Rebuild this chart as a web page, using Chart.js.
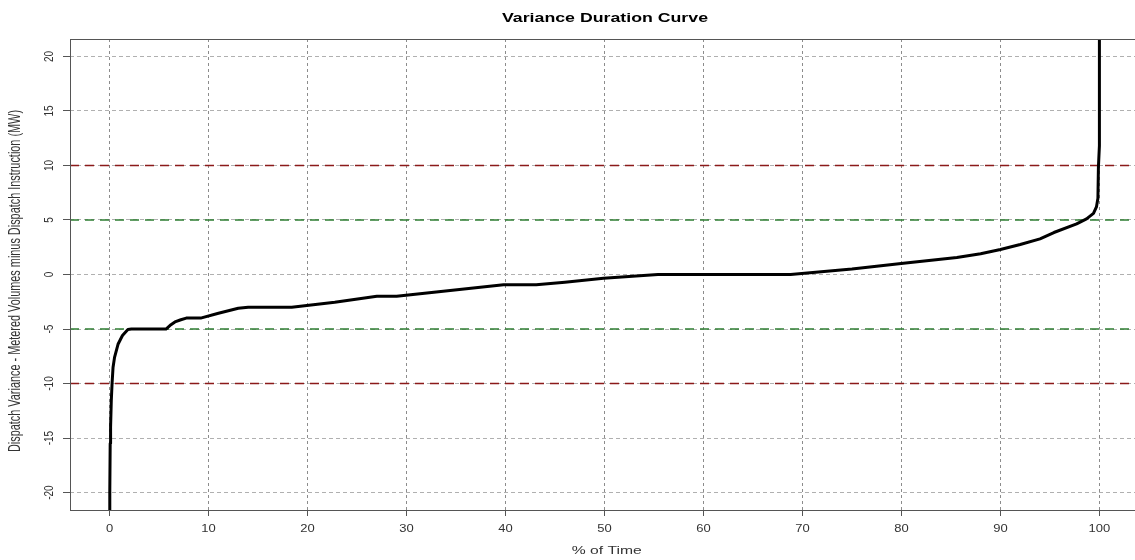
<!DOCTYPE html>
<html><head><meta charset="utf-8">
<script src="https://cdn.jsdelivr.net/npm/chart.js@4.4.0/dist/chart.umd.min.js"></script>
<style>html,body{margin:0;padding:0;overflow:hidden;background:#fff;width:1135px;height:560px}canvas{display:block}</style>
</head><body>
<canvas id="c" width="1140" height="560"></canvas>
<script>
// ---- data ----
const pctTime  = [0, 0.02, 0.06, 0.1, 0.17, 0.25, 0.35, 0.5, 0.85, 1.3, 1.85, 2.2, 5.7, 6.2, 6.6, 7.2, 7.75, 9.2, 11, 13, 14, 18.4, 22.75, 27, 29, 33, 39.8, 43.1, 46, 49.9, 55.4, 68.8, 75, 80.2, 85.6, 88, 90, 92, 94, 95.4, 97.7, 98.7, 99.4, 99.7, 99.85, 99.9, 100, 100];
const variance = [-25, -20, -15.5, -14, -11.6, -10, -8.5, -7.6, -6.4, -5.6, -5.05, -5, -5, -4.6, -4.35, -4.15, -4.0, -4.0, -3.55, -3.1, -3.0, -3.0, -2.55, -2.0, -2.0, -1.6, -0.95, -0.95, -0.7, -0.34, 0, 0, 0.5, 1.04, 1.55, 1.9, 2.3, 2.75, 3.27, 3.85, 4.65, 5.1, 5.6, 6.2, 7.0, 9.85, 11.8, 25];
const xTicks = [0, 10, 20, 30, 40, 50, 60, 70, 80, 90, 100];
const yTicks = [-20, -15, -10, -5, 0, 5, 10, 15, 20];
const redLevels = [-10, 10];
const greenLevels = [-5, 5];
const xRange = [-4, 104];
const yRange = [-21.6, 21.6];
const titleText = 'Variance Duration Curve';
const xTitle = '% of Time';
const yTitle = 'Dispatch Variance - Metered Volumes minus Dispatch Instruction (MW)';

const curve = pctTime.map((x, i) => ({x: x, y: variance[i]}));
const refLine = (v, color) => ({
  data: [{x: xRange[0], y: v}, {x: xRange[1], y: v}],
  borderColor: color, borderWidth: 1.6, borderDash: [9, 6],
  pointRadius: 0, tension: 0, clip: 0
});

const FONT = '"Liberation Sans", Arial, sans-serif';
const STRETCH = 1.3;

const textPlugin = {
  id: 'textPlugin',
  afterDraw(chart) {
    const ctx = chart.ctx, a = chart.chartArea;
    const xs = chart.scales.x, ys = chart.scales.y;
    ctx.save();
    // box
    ctx.strokeStyle = '#555'; ctx.lineWidth = 1; ctx.setLineDash([]);
    ctx.strokeRect(Math.round(a.left) + 0.5, Math.round(a.top) + 0.5, Math.round(a.right - a.left), Math.round(a.bottom - a.top));
    // title
    ctx.fillStyle = '#000';
    ctx.font = 'bold 12px ' + FONT;
    ctx.textAlign = 'center'; ctx.textBaseline = 'alphabetic';
    let w = ctx.measureText(titleText).width;
    ctx.save(); ctx.translate(605, 21.7); ctx.scale(206 / w, 1); ctx.fillText(titleText, 0, 0); ctx.restore();
    // x tick labels
    ctx.fillStyle = '#333';
    ctx.font = '10px ' + FONT;
    xTicks.forEach(v => {
      ctx.save(); ctx.translate(xs.getPixelForValue(v), 532.3); ctx.scale(STRETCH, 1);
      ctx.fillText(String(v), 0, 0); ctx.restore();
    });
    // x title
    w = ctx.measureText(xTitle).width;
    ctx.save(); ctx.translate(606.7, 554.3); ctx.scale(70 / w, 1); ctx.fillText(xTitle, 0, 0); ctx.restore();
    // y tick labels (rotated)
    yTicks.forEach(v => {
      ctx.save(); ctx.translate(53.3, ys.getPixelForValue(v)); ctx.rotate(-Math.PI / 2); ctx.scale(1, STRETCH);
      ctx.fillText(String(v), 0, 0); ctx.restore();
    });
    // y title
    ctx.font = '12px ' + FONT;
    w = ctx.measureText(yTitle).width;
    ctx.save(); ctx.translate(20, 281); ctx.rotate(-Math.PI / 2); ctx.scale(342 / w, 1.35);
    ctx.fillText(yTitle, 0, 0); ctx.restore();
    ctx.restore();
  }
};

new Chart(document.getElementById('c'), {
  type: 'line',
  data: {
    datasets: [
      {data: curve, borderColor: '#000', borderWidth: 3, pointRadius: 0, tension: 0, clip: 0, borderJoinStyle: 'round'},
      refLine(redLevels[0], '#8b1a1a'), refLine(redLevels[1], '#8b1a1a'),
      refLine(greenLevels[0], '#2e7d32'), refLine(greenLevels[1], '#2e7d32')
    ]
  },
  options: {
    responsive: false, animation: false, devicePixelRatio: 1,
    layout: {padding: {top: 39, left: 0, right: 1, bottom: 0}},
    plugins: {legend: {display: false}, tooltip: {enabled: false}, title: {display: false}},
    scales: {
      x: {
        type: 'linear', min: xRange[0], max: xRange[1],
        afterBuildTicks: s => { s.ticks = xTicks.map(v => ({value: v})); },
        afterFit: s => { s.height = 50; },
        ticks: {display: false},
        grid: {color: '#8c8c8c', lineWidth: 1, drawTicks: true, tickLength: 6, tickColor: '#555', tickWidth: 1, tickBorderDash: []},
        border: {display: false, dash: [3, 3]}
      },
      y: {
        type: 'linear', min: yRange[0], max: yRange[1],
        afterBuildTicks: s => { s.ticks = yTicks.map(v => ({value: v})); },
        afterFit: s => { s.width = 70; },
        ticks: {display: false},
        grid: {color: '#b0b0b0', lineWidth: 1, drawTicks: true, tickLength: 7, tickColor: '#555', tickWidth: 1, tickBorderDash: []},
        border: {display: false, dash: [4, 3]}
      }
    }
  },
  plugins: [textPlugin]
});
</script>
</body></html>
